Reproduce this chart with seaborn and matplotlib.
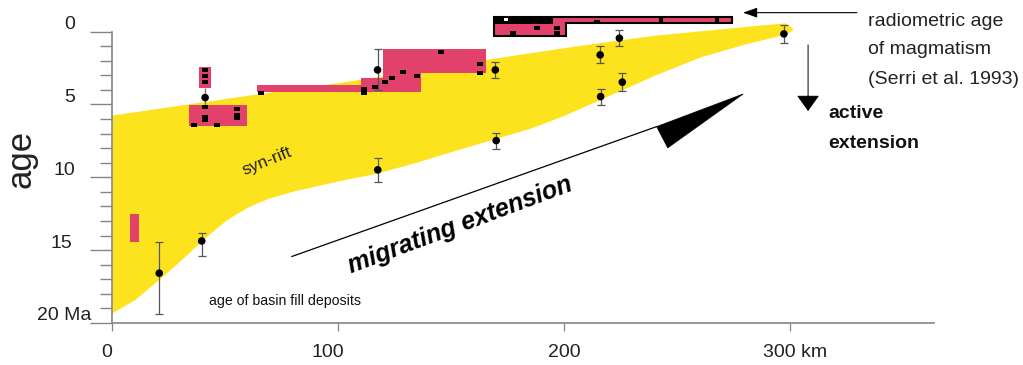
import numpy as np
import pandas as pd
import matplotlib
matplotlib.use("Agg")
import matplotlib.pyplot as plt
import seaborn as sns
from matplotlib.patches import Polygon, Rectangle
from matplotlib.transforms import ScaledTranslation
from matplotlib.ticker import FixedLocator
from matplotlib.patches import ArrowStyle

# ---------------- data ----------------
# syn-rift band (distance km, upper / lower age Ma)
band_km = [0, 10, 20, 30, 40, 50, 55, 60, 65, 70, 80, 90, 100, 117, 135, 150, 170, 185, 200, 216, 240, 260, 280, 292, 298, 301]
band_top = [5.72, 5.5, 5.27, 5.05, 4.82, 4.6, 4.48, 4.37, 4.26, 4.15, 3.93, 3.72, 3.5, 3.1, 2.65, 2.3, 1.8, 1.45, 1.1, 0.75, 0.25, -0.05, -0.35, -0.52, -0.6, -0.25]
band_bottom = [19.3, 18.4, 17.1, 15.75, 14.3, 13.0, 12.5, 12.05, 11.7, 11.4, 10.95, 10.6, 10.25, 9.72, 8.95, 8.24, 7.32, 6.63, 5.75, 4.65, 3.0, 1.75, 0.85, 0.4, 0.15, -0.1]

# basin fill ages with error ranges
dot_km = [20.9, 39.7, 117.5, 117.6, 169.6, 170.0, 216.0, 216.2, 224.5, 225.8, 297.3]
dot_age = [16.58, 14.37, 2.63, 9.49, 2.63, 7.48, 1.6, 4.46, 0.45, 3.47, 0.16]
dot_lo = [14.41, 13.8, 1.21, 8.69, 2.06, 6.93, 1.0, 3.93, -0.12, 2.86, -0.46]
dot_hi = [19.4, 15.4, 4.0, 10.3, 3.2, 8.07, 2.17, 5.03, 0.98, 4.07, 0.8]
# dot linking the two pink boxes (no caps)
link_km = [41.2]
link_age = [4.53]
link_lo = [3.88]
link_hi = [5.03]

# magmatism boxes (rectangles)
box_km0 = [8.0, 38.7, 34.2]
box_km1 = [12.1, 43.6, 59.6]
box_top = [12.53, 2.4, 5.03]
box_bottom = [14.41, 3.88, 6.45]

# staircase magmatism polygon
stair_km = [64.3, 110, 110, 119.8, 119.8, 165.5, 165.5, 136.7, 136.7, 64.3]
stair_age = [3.66, 3.66, 3.2, 3.2, 1.21, 1.21, 2.86, 2.86, 4.12, 4.12]

# top magmatism bar
topbar_km = [169, 274.2, 274.2, 200.9, 200.9, 169]
topbar_age = [-1.03, -1.03, -0.58, -0.58, 0.3, 0.3]
topblack_km = [169, 195]
topblack_age = [-1.03, -0.53]
sep_km = [242.0, 266.8]
white_km = [173.5, 175.3]
white_age = [-0.92, -0.72]

# radiometric ages (black dashes)
dash_km = [41.2, 41.2, 41.2, 41.3, 41.3, 41.3, 55.4, 55.4, 55.4, 36.2, 46.3, 66.0,
           111.5, 111.5, 116.4, 120.8, 123.8, 128.6, 135.1, 145.6, 162.7, 162.7,
           188.0, 196.9, 196.9, 177.4, 214.5]
dash_age = [2.63, 3.02, 3.43, 5.19, 5.83, 6.06, 5.31, 5.72, 5.9, 6.4, 6.4, 4.18,
            3.95, 4.23, 3.78, 3.43, 3.2, 2.75, 3.04, 1.37, 2.24, 2.86,
            -0.27, -0.23, 0.11, 0.11, -0.69]

# migrating extension arrow
mig_km = [79.5, 241.0]
mig_age = [15.44, 6.52]
wedge_km = [241.0, 279.3, 245.9]
wedge_age = [6.52, 4.28, 7.98]

y_ticks = [0, 5, 10, 15, 20]
y_minor = list(range(0, 21))
y_labels = ["0", "5", "10", "15", "20 Ma"]
x_ticks = [0, 100, 200, 300]
x_labels = ["0", "100", "200", "300 km"]

# ---------------- style ----------------
sns.set_theme(style="white")
plt.rcParams["font.family"] = ["Liberation Sans", "DejaVu Sans"]

YELLOW = "#FDE31E"
PINK = "#E1416B"
GREY = "#858585"

fig = plt.figure(figsize=(10.23, 3.65), dpi=100)
ax = fig.add_axes([112 / 1023, 42 / 365, 822 / 1023, 323 / 365])
ax.set_xlim(0, 822 / 2.26)
ax.set_ylim(20.0, 20.0 - 323 / 14.57)

# band
ax.fill_between(band_km, band_top, band_bottom, color=YELLOW, lw=0, zorder=1)

# pink boxes
for k0, k1, a0, a1 in zip(box_km0, box_km1, box_top, box_bottom):
    ax.add_patch(Rectangle((k0, a0), k1 - k0, a1 - a0, facecolor=PINK, edgecolor="none", zorder=2))
ax.add_patch(Polygon(np.column_stack([stair_km, stair_age]), closed=True,
                     facecolor=PINK, edgecolor="none", zorder=2))
ax.add_patch(Polygon(np.column_stack([topbar_km, topbar_age]), closed=True,
                     facecolor=PINK, edgecolor="black", lw=1.5, zorder=2))
ax.add_patch(Rectangle((topblack_km[0], topblack_age[0]), topblack_km[1] - topblack_km[0],
                       topblack_age[1] - topblack_age[0], facecolor="black", edgecolor="none", zorder=3))
for s in sep_km:
    ax.add_patch(Rectangle((s, topbar_age[0]), 1.8, topbar_age[2] - topbar_age[0],
                           facecolor="black", edgecolor="none", zorder=3))
ax.add_patch(Rectangle((white_km[0], white_age[0]), white_km[1] - white_km[0],
                       white_age[1] - white_age[0], facecolor="white", edgecolor="none", zorder=4))

# error bars
d_age = np.array(dot_age)
ax.errorbar(dot_km, dot_age, yerr=[d_age - np.array(dot_lo), np.array(dot_hi) - d_age],
            fmt="none", ecolor="#555555", elinewidth=0.9, capsize=3, capthick=0.9, zorder=4)
l_age = np.array(link_age)
ax.errorbar(link_km, link_age, yerr=[l_age - np.array(link_lo), np.array(link_hi) - l_age],
            fmt="none", ecolor="#777777", elinewidth=1.0, capsize=0, zorder=1.5)

dots = pd.DataFrame({"km": dot_km + link_km, "age": dot_age + link_age})
sns.scatterplot(data=dots, x="km", y="age", color="black", s=30, edgecolor="none",
                ax=ax, zorder=5, legend=False)

# radiometric dashes
dash_marker = [(-1, -0.55), (1, -0.55), (1, 0.55), (-1, 0.55), (-1, -0.55)]
ax.scatter(dash_km, dash_age, marker=dash_marker, s=16, color="black", lw=0, zorder=6)

# migrating extension arrow
sns.lineplot(x=mig_km, y=mig_age, color="black", lw=0.9, ax=ax, zorder=3, sort=False)
ax.add_patch(Polygon(np.column_stack([wedge_km, wedge_age]), closed=True,
                     facecolor="black", edgecolor="black", lw=0.5, zorder=3))

# arrows
ax.annotate("", xy=(279.2, -1.30), xytext=(329.6, -1.30),
            arrowprops=dict(arrowstyle=ArrowStyle("-|>", head_length=0.86, head_width=0.3),
                            mutation_scale=10, lw=0.8, color="black", shrinkA=0, shrinkB=0),
            annotation_clip=False)
ax.annotate("", xy=(308.0, 5.45), xytext=(308.0, 0.91),
            arrowprops=dict(arrowstyle=ArrowStyle("-|>", head_length=1.0, head_width=0.72),
                            mutation_scale=10, lw=0.7, color="black", shrinkA=0, shrinkB=0),
            annotation_clip=False)

# texts
ax.text(154.0, 13.25, "migrating extension", rotation=20.5, fontsize=18,
        fontweight="bold", fontstyle="italic", ha="center", va="center", color="black")
ax.text(68.6, 8.9, "syn-rift", rotation=22, fontsize=12.5, ha="center", va="center", color="#222222")
ax.text(76.7, 18.5, "age of basin fill deposits", fontsize=10.2, ha="center", va="center", color="#111111")
for txt, a in zip(["radiometric age", "of magmatism", "(Serri et al. 1993)"], [-0.69, 1.21, 3.32]):
    ax.text(334.5, a, txt, fontsize=14, ha="left", va="center", color="#222222", clip_on=False)
for txt, a in zip(["active", "extension"], [5.6, 7.66]):
    ax.text(316.8, a, txt, fontsize=14, fontweight="bold", ha="left", va="center", color="#111111", clip_on=False)

# axes styling
for side in ["top", "right"]:
    ax.spines[side].set_visible(False)
for side in ["left", "bottom"]:
    ax.spines[side].set_color(GREY)
    ax.spines[side].set_linewidth(1.2)
ax.spines["left"].set_bounds(0, 20)

ax.yaxis.set_major_locator(FixedLocator(y_ticks))
ax.yaxis.set_minor_locator(FixedLocator(y_minor))
ax.set_yticklabels(y_labels)
ax.xaxis.set_major_locator(FixedLocator(x_ticks))
ax.set_xticklabels(x_labels)
ax.tick_params(axis="y", which="major", left=True, length=15.8, width=1.0, color=GREY,
               labelsize=14, pad=10.8, labelcolor="#222222")
ax.tick_params(axis="y", which="minor", left=True, length=8.6, width=1.0, color=GREY)
ax.tick_params(axis="x", which="major", bottom=True, length=5.8, width=0.9, color=GREY,
               labelsize=14, pad=9.4, labelcolor="#222222")

y_dx = [0, 0, 0, -3, 16]
for lab, dx in zip(ax.get_yticklabels(), y_dx):
    lab.set_transform(lab.get_transform() + ScaledTranslation(dx / 100, 9 / 100, fig.dpi_scale_trans))
x_dx = [-5, -10, 0, 5]
for lab, dx in zip(ax.get_xticklabels(), x_dx):
    lab.set_transform(lab.get_transform() + ScaledTranslation(dx / 100, 0, fig.dpi_scale_trans))

ax.set_xlabel("")
ax.set_ylabel("age", fontsize=25, color="#222222")
ax.yaxis.set_label_coords(-0.091, 0.508)

fig.savefig("out.png", dpi=100)
